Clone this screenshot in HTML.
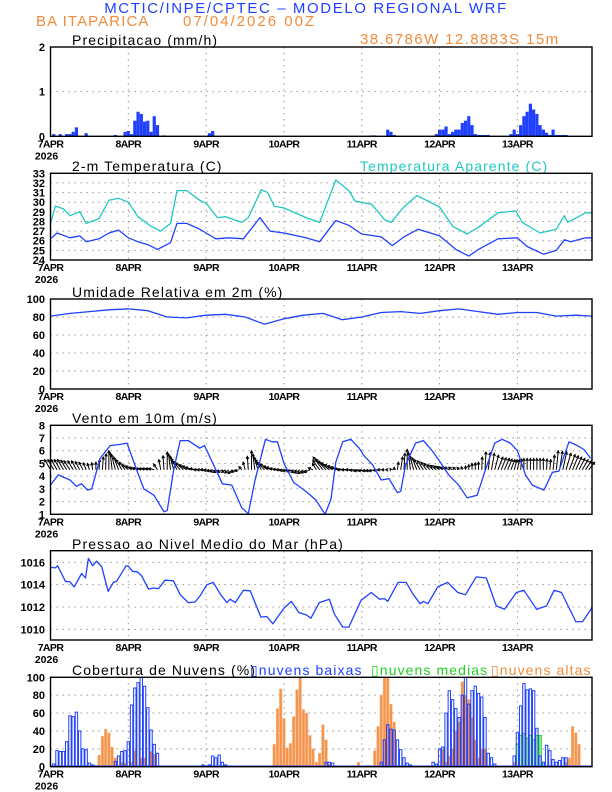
<!DOCTYPE html>
<html><head><meta charset="utf-8">
<style>
html,body{margin:0;padding:0;background:#fff;}
svg{display:block;font-family:"Liberation Sans",sans-serif;}
.t{letter-spacing:1.1px;}
</style></head>
<body>
<svg id="chart" width="612" height="792" viewBox="0 0 612 792" xmlns="http://www.w3.org/2000/svg">
<text class="t" x="306" y="13" text-anchor="middle" font-size="15" fill="#2040ff" style="letter-spacing:1.6px">MCTIC/INPE/CPTEC – MODELO REGIONAL WRF</text>
<text class="t" x="36" y="26" font-size="15" fill="#f08c3c">BA ITAPARICA</text>
<text class="t" x="183" y="26" font-size="15" fill="#f08c3c" style="letter-spacing:2px">07/04/2026 00Z</text>
<text class="t" x="360" y="44" font-size="15" fill="#f08c3c" style="letter-spacing:1.4px">38.6786W 12.8883S 15m</text>
<text class="t" x="72" y="45" font-size="14" fill="#000">Precipitacao (mm/h)</text>
<text class="t" x="72" y="171" font-size="14" fill="#000">2-m Temperatura (C)</text>
<text class="t" x="360" y="171" font-size="14" fill="#20c8c0">Temperatura Aparente (C)</text>
<text class="t" x="72" y="297" font-size="14" fill="#000">Umidade Relativa em 2m (%)</text>
<text class="t" x="72" y="423" font-size="14" fill="#000">Vento em 10m (m/s)</text>
<text class="t" x="72" y="549" font-size="14" fill="#000">Pressao ao Nivel Medio do Mar (hPa)</text>
<text class="t" x="72" y="675" font-size="14" fill="#000">Cobertura de Nuvens (%)</text>
<text class="t" x="250" y="675" font-size="14" fill="#2040ff">▯nuvens baixas</text>
<text class="t" x="371" y="675" font-size="14" fill="#20d020">▯nuvens medias</text>
<text class="t" x="491" y="675" font-size="14" fill="#f08c3c">▯nuvens altas</text>
</svg>
<script>
// ---------- data ----------
const dayLabels = ["7APR","8APR","9APR","10APR","11APR","12APR","13APR"];
const precipHours = [1,3,5,6,7,8,11,20,23,24,25,26,27,28,29,30,31,32,33,35,49,50,99,100,104,105,106,119,120,121,122,123,124,125,126,127,128,129,130,131,132,133,134,135,142,143,144,145,146,147,148,149,150,151,152,153,154,155,156,157,158,159];
const precipValues = [0.05,0.05,0.05,0.05,0.1,0.2,0.07,0.03,0.1,0.12,0.05,0.35,0.55,0.5,0.33,0.35,0.1,0.45,0.25,0.02,0.07,0.12,0.02,0.02,0.15,0.1,0.03,0.05,0.15,0.15,0.22,0.05,0.1,0.15,0.15,0.3,0.35,0.45,0.25,0.05,0.03,0.03,0.03,0.03,0.05,0.15,0.05,0.25,0.45,0.55,0.73,0.6,0.5,0.25,0.15,0.08,0.03,0.15,0.03,0.03,0.03,0.03];
const tempHours = [0,2,6,9,11,15,18,21,24,27,30,33,37,39,42,46,48,51,55,59.5,64.6,67.7,72,78.8,83,88,92,96,102,105.4,109,113.4,120,125,129,132,138,144,147,152,156,158.5,160.5,165,167];
const tempValues = [26.2,26.8,26.3,26.5,25.9,26.2,26.8,27.1,26.3,25.9,25.6,25.1,25.8,27.8,27.8,27.2,26.8,26.2,26.3,26.2,28.4,27.0,26.8,26.3,25.9,28.1,27.6,26.7,26.4,25.5,26.4,27.2,26.5,25.1,24.4,25.1,26.2,26.3,25.4,24.6,25.0,26.1,25.9,26.3,26.3];
const appHours = [0,1.5,4,6,9,11,15,18,21,24,27,31,34,37,39,42,46,48,51.5,54,59,61,65,67,69,72,78.8,83,88,92,94,99,103,105,109,113,120,124,128.5,132,138,143.5,145.5,151,156,158.5,159.5,165,167];
const appValues = [27.8,29.6,29.3,28.6,29.0,27.8,28.3,30.2,30.4,30.0,28.5,27.5,27.0,27.8,31.2,31.2,30.2,29.9,28.4,28.5,27.9,28.4,31.3,31.0,29.6,29.4,28.4,27.9,32.3,31.2,30.1,29.8,28.2,27.9,29.5,30.7,29.5,27.5,26.7,27.4,28.9,29.1,27.9,26.8,27.2,28.6,27.9,28.9,28.9];
const rhHours = [0,6,12,18,24,30,36,42,48,54,60,66,72,78,84,90,96,102,108,114,120,126,132,138,144,150,156,162,167];
const rhValues = [81,84,86,88,89,87,80,79,82,83,80,72,78,82,84,77,80,85,86,84,87,89,86,83,85,85,81,82,81];
const windHours = [0,2.4,6,8,9.6,11.4,12.7,15.3,18.4,21.5,23.6,26.7,28.8,31.9,35,36,38,40,42.5,46,47.5,51,53,55.9,59,61,63,66.3,68.3,70,72,75,78.8,81.9,84.7,86.5,88,90.1,92.6,95.2,96.7,99.3,102,104.4,107,108,109.5,112.6,115,117.7,119.7,122.8,125.9,128.5,131.6,134,137,139.3,141.8,144,146.5,148.6,152.2,154.8,156.8,159.9,162.5,164.5,166.6];
const windSpeed = [3.3,4.1,3.7,3.2,3.4,2.9,3.0,5.4,6.4,6.5,6.6,4.4,3.0,2.5,1.2,1.3,4.5,6.8,6.8,6.2,6.4,4.5,3.4,3.3,1.5,1.05,3.6,6.9,6.7,6.7,5.0,3.5,2.8,2.1,1.0,2.2,5.1,6.7,6.9,6.2,5.6,4.9,3.7,3.8,2.7,2.8,4.9,6.6,6.8,6.0,5.3,4.1,3.3,2.3,2.5,4.4,6.6,6.9,6.6,6.0,4.1,3.3,2.9,4.3,4.4,6.7,6.4,6.1,5.4];
const vecHours = [0,2,4,6,8,10,12,14,16,18,20,22,24,26,28,30,32,34,36,38,40,42,44,46,48,50,52,54,56,58,60,62,64,66,68,70,72,74,76,78,80,82,84,86,88,90,92,94,96,98,100,102,104,106,108,110,112,114,116,118,120,122,124,126,128,130,132,134,136,138,140,142,144,146,148,150,152,154,156,158,160,162,164,166];
const vecU = [-3,-3,-3,-3,-2.5,-2,-1,0,0.5,0,-2,-3,-3,-3,-3,-3,-3,-1,0,-2,-4,-4,-4,-3,-3,-3,-3,-2,-2,-2,-1,0,-2,-4,-4,-4,-4,-4,-3,-3,-3,-2,-5,-6,-6,-6,-6,-5,-4,-3,-3,-2,-1,0,1,0,-2,-3,-3,-3,-3,-3,-2,-1,0,0,0,0.5,1.5,2.5,2.5,2,1,0,0,0,0,0.5,1,2,3,3,3,3];
const vecV = [0.8,0.8,0.8,0.7,0.7,0.6,0.5,0.6,1.0,1.5,1.2,0.8,0.4,0.2,0.1,0.1,0.1,0.8,1.4,1.1,0.7,0.4,0.2,0,0,-0.1,-0.2,-0.2,-0.3,-0.1,0.6,1.5,1.0,0.6,0.3,0.1,0,-0.1,-0.2,-0.3,-0.2,0.5,1.0,0.7,0.4,0.2,0,0,-0.1,-0.1,-0.1,0,0,0.2,1.0,1.6,1.1,0.8,0.6,0.4,0.3,0.2,0.2,0.2,0.3,0.5,0.6,1.4,1.3,1.0,0.9,0.8,0.8,0.9,0.9,0.9,0.9,0.8,1.5,1.4,1.2,1.0,0.8,0.6];
const presHours = [0,1.5,2.2,4.6,6,7.3,9.6,10.8,11.7,13,14.2,15.8,17.8,19.4,20.4,23.3,24,25.3,26.7,28.1,30.2,31.7,33.3,35.3,37.9,40,42.5,44.6,46.1,48.2,50.2,52.5,54.4,55.4,57,59.5,61.6,64.9,66.7,68.6,72,74.3,76.6,78.9,80.3,82.9,86,87.5,90.1,92,95.8,98.9,101.5,103,104,107.2,109.7,111.7,114,115,116.4,119.4,122.5,125.6,128,131.3,134.4,137.5,140,143.7,146,149.9,153,155.3,157.6,162,164.1,166.9];
const presValues = [1015.55,1015.5,1015.7,1014.3,1014.25,1013.8,1015.0,1014.6,1016.35,1015.7,1016.1,1015.6,1013.4,1014.2,1014.3,1015.7,1015.65,1015.2,1015.15,1014.8,1013.6,1013.7,1013.65,1014.4,1014.35,1013.1,1012.4,1012.45,1013.0,1014.0,1014.2,1013.1,1012.4,1012.7,1012.4,1013.5,1013.45,1011.1,1011.15,1010.5,1011.9,1012.5,1011.5,1011.3,1011.0,1012.4,1012.7,1011.4,1010.2,1010.2,1012.6,1013.3,1012.7,1012.75,1012.5,1014.2,1014.2,1013.2,1012.3,1012.5,1012.3,1013.8,1014.2,1013.3,1013.1,1014.7,1014.6,1012.1,1011.8,1013.3,1013.5,1011.8,1012.1,1013.5,1013.3,1010.7,1010.7,1011.9];
const lowHours = [1,2,3,4,5,6,7,8,9,10,11,12,13,14,20,21,22,23,24,25,26,27,28,29,30,31,32,33,47,48,49,50,51,52,53,54,85,86,87,102,103,104,105,106,107,108,109,110,111,118,119,120,121,122,123,124,125,126,127,128,129,130,131,132,133,134,135,136,137,143,144,145,146,147,148,149,150,151,152,153,154,155,156,157,158,159];
const lowValues = [3,18,17,17,28,57,56,61,40,20,19,4,2,1,6,12,17,18,28,69,88,94,100,90,66,41,25,15,2,1,2,12,10,13,5,2,5,5,4,5,30,47,42,41,30,19,10,4,2,5,3,20,22,60,85,75,65,55,80,100,70,85,90,82,78,55,15,10,3,12,38,68,93,86,87,85,43,12,5,24,18,8,5,7,10,10];
const midHours = [144,145,146,147,148,149,150,151,152];
const midValues = [25,35,37,32,35,30,35,35,3];
const highHours = [15,16,17,18,19,20,22,23,25,26,28,29,31,32,69,70,71,72,73,74,75,76,77,78,79,80,81,82,83,84,85,86,95,100,101,102,103,104,105,106,121,122,123,124,125,126,127,128,129,130,131,132,133,134,143,144,159,160,161,162,163];
const highValues = [13,34,42,38,22,10,5,4,5,18,10,10,17,14,25,65,87,54,21,26,56,86,100,64,60,35,20,5,15,47,30,3,5,18,45,80,100,100,70,50,20,5,12,20,40,50,95,80,75,55,30,10,20,20,5,3,5,10,45,38,25,8];

// ---------- layout ----------
const NS = "http://www.w3.org/2000/svg";
const svg = document.getElementById("chart");
const X0 = 50.5, X1 = 592, H0 = 0, H1 = 167;
function xAt(h){ return X0 + (h - H0) * (X1 - X0) / (H1 - H0); }
function mk(tag, attrs, parent){
  const e = document.createElementNS(NS, tag);
  for (const k in attrs) e.setAttribute(k, attrs[k]);
  (parent || svg).appendChild(e);
  return e;
}
function yAt(p, v){ return p.bottom - (v - p.min) * (p.bottom - p.top) / (p.max - p.min); }

const panels = [
  {key:"precip", top:47, bottom:136.3, min:0, max:2, ticks:[0,1,2]},
  {key:"temp", top:173.3, bottom:260, min:24, max:33, ticks:[24,25,26,27,28,29,30,31,32,33]},
  {key:"humidity", top:299, bottom:389, min:0, max:100, ticks:[0,20,40,60,80,100]},
  {key:"wind", top:425.3, bottom:514.3, min:1, max:8, ticks:[1,2,3,4,5,6,7,8]},
  {key:"pressure", top:550.7, bottom:640, min:1009.05, max:1017.04, ticks:[1010,1012,1014,1016]},
  {key:"cloud", top:677.3, bottom:766.7, min:0, max:100, ticks:[0,20,40,60,80,100]}
];

panels.forEach(p => {
  const g = mk("g", {});
  
  
  p.g = g;
  p.ticks.forEach(t => {
    const y = yAt(p, t);
    if (y > p.top + 1 && y < p.bottom - 1) {
      const gl = mk("line", {x1:X0, x2:X1, y1:y, y2:y, stroke:"#999", "stroke-width":1, "stroke-dasharray":"1.5 4.5"}, g);
      
      
    }
    const tl = mk("text", {x:45, y:y+4, "text-anchor":"end", "font-size":11, "font-weight":"bold", fill:"#000"}, g);
    
    
    tl.textContent = String(t);
  });
  dayLabels.forEach((d, i) => {
    const x = xAt(i * 24);
    if (i > 0) {
      const vl = mk("line", {x1:x, x2:x, y1:p.top, y2:p.bottom, stroke:"#999", "stroke-width":1, "stroke-dasharray":"1.5 4.5"}, g);
      
      
    }
    const xl = mk("text", {x:x, y:p.bottom+11, "text-anchor":"middle", "font-size":10.5, "font-weight":"bold", fill:"#000", "letter-spacing":"-0.6"}, g);
    
    
    xl.textContent = d;
  });
  const yr = mk("text", {x:X0-4, y:p.bottom+23, "text-anchor":"middle", "font-size":10.5, "font-weight":"bold", fill:"#000"}, g);
  
  
  yr.textContent = "2026";
});

function frame(p){
  const f = mk("rect", {x:X0, y:p.top, width:X1-X0, height:p.bottom-p.top, fill:"none", stroke:"#000", "stroke-width":1.4});
  
  
}
function line(p, hs, vs, color, name){
  const pts = hs.map((h, i) => xAt(h).toFixed(1) + "," + yAt(p, vs[i]).toFixed(1)).join(" ");
  const l = mk("polyline", {points:pts, fill:"none", stroke:color, "stroke-width":1.3, "stroke-linejoin":"round"}, p.g);
  
  
}
const P = {}; panels.forEach(p => P[p.key] = p);

// precipitation bars
precipHours.forEach((h, i) => {
  const p = P.precip, y = yAt(p, precipValues[i]);
  const r = mk("rect", {x:xAt(h)-1.6, y:y, width:3.2, height:p.bottom-y, fill:"#2040ff"}, p.g);
  
  
});
// temperature
line(P.temp, appHours, appValues, "#20c8c0", "apparent-temperature-line");
line(P.temp, tempHours, tempValues, "#2040ff", "temperature-line");
// humidity
line(P.humidity, rhHours, rhValues, "#2040ff", "humidity-line");
// wind vectors (drawn hourly, interpolating between the 2-hourly vectors)
function drawVec(h, u, v){
  const p = P.wind;
  const x0 = xAt(h), y0 = yAt(p, 4.5);
  const x1 = xAt(h + u * 0.6), y1 = yAt(p, 4.5 + v);
  const a = Math.atan2(y1 - y0, x1 - x0);
  const g = mk("g", {}, p.g);
  
  
  mk("line", {x1:x0, y1:y0, x2:x1, y2:y1, stroke:"#000", "stroke-width":1}, g);
  const hl = 2.8;
  mk("polyline", {points:`${x1-hl*Math.cos(a-0.5)},${y1-hl*Math.sin(a-0.5)} ${x1},${y1} ${x1-hl*Math.cos(a+0.5)},${y1-hl*Math.sin(a+0.5)}`, fill:"none", stroke:"#000", "stroke-width":1}, g);
}
vecHours.forEach((h, i) => {
  drawVec(h, vecU[i], vecV[i]);
  if (i + 1 < vecHours.length) {
    drawVec((h + vecHours[i+1]) / 2, (vecU[i] + vecU[i+1]) / 2, (vecV[i] + vecV[i+1]) / 2);
  }
});
line(P.wind, windHours, windSpeed, "#2040ff", "wind-speed-line");
// pressure
line(P.pressure, presHours, presValues, "#2040ff", "pressure-line");
// clouds
highHours.forEach((h, i) => {
  const p = P.cloud, y = yAt(p, highValues[i]);
  const r = mk("rect", {x:xAt(h)-1.3, y:y, width:2.6, height:p.bottom-y, fill:"#f5944a", stroke:"#f8b888", "stroke-width":0.5}, p.g);
  
  
});
midHours.forEach((h, i) => {
  const p = P.cloud, y = yAt(p, midValues[i]);
  const r = mk("rect", {x:xAt(h)-1.2, y:y, width:2.4, height:p.bottom-y, fill:"#b0f0b0", stroke:"#20d020", "stroke-width":1}, p.g);
  
  
});
lowHours.forEach((h, i) => {
  const p = P.cloud, y = yAt(p, lowValues[i]);
  const r = mk("rect", {x:xAt(h)-1.2, y:y, width:2.4, height:p.bottom-y, fill:"none", stroke:"#2040ff", "stroke-width":1}, p.g);
  
  
});
const base = mk("line", {x1:X0, x2:X1, y1:P.cloud.bottom-0.5, y2:P.cloud.bottom-0.5, stroke:"#2040ff", "stroke-width":1.5}, P.cloud.g);



panels.forEach(frame);
</script>
</body></html>
